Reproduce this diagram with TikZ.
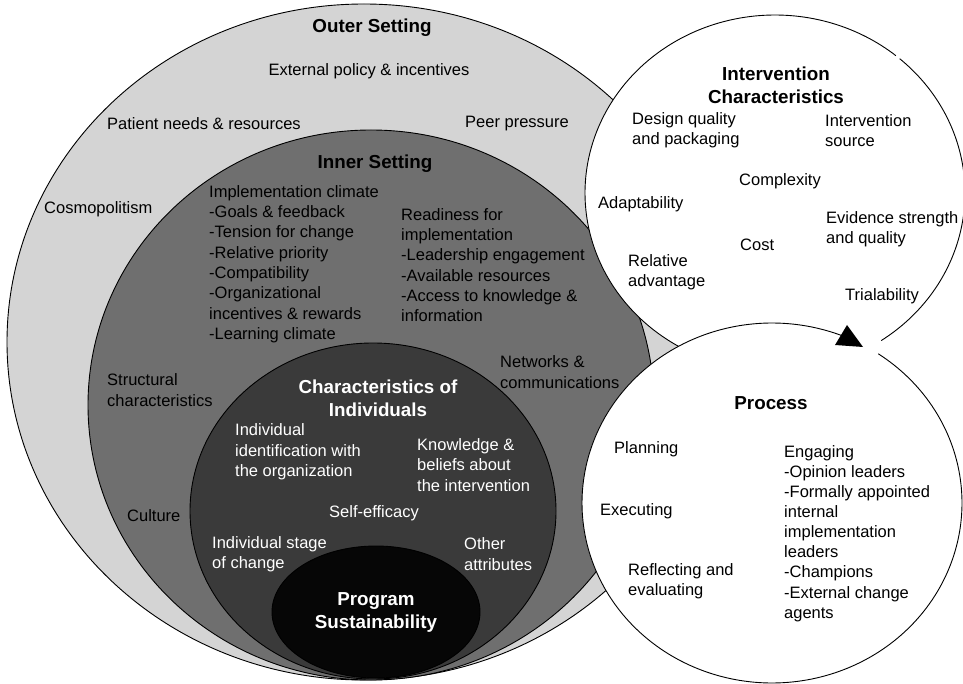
\documentclass[tikz,border=0pt]{standalone}
\usepackage{fontspec}
\setmainfont{Liberation Sans}
\begin{document}
\begin{tikzpicture}[x=1pt,y=-1pt,
  outline/.style={draw=black,line width=0.9pt},
  txt/.style={font=\fontsize{16.5}{20.3}\selectfont,inner sep=0pt,align=left,anchor=west},
  ctxt/.style={font=\fontsize{16.5}{20.3}\selectfont,inner sep=0pt,align=center},
  ttl/.style={font=\fontsize{18.8}{23}\selectfont\bfseries,inner sep=0pt,align=center},
  wtxt/.style={txt,text=white},
  wctxt/.style={ctxt,text=white},
  wttl/.style={ttl,text=white}]
\definecolor{outerC}{RGB}{212,212,212}
\definecolor{innerC}{RGB}{111,111,111}
\definecolor{indivC}{RGB}{58,58,58}
\definecolor{progC}{RGB}{6,6,6}
\useasboundingbox (0,0) rectangle (963,684);
\clip (0,0) rectangle (963,684);
\fill[white] (0,0) rectangle (963,684);

% nested settings
\filldraw[fill=outerC,outline] (364,342) ellipse [x radius=357pt,y radius=338pt];
\filldraw[fill=innerC,outline] (371,405) ellipse [x radius=283pt,y radius=275pt];
\filldraw[fill=indivC,outline] (373,511) ellipse [x radius=183pt,y radius=168pt];
\filldraw[fill=progC,outline] (376,612) ellipse [x radius=104pt,y radius=66pt];

% intervention characteristics circle
\fill[white] (775,193) ellipse [x radius=190pt,y radius=178pt];
\draw[outline] plot[domain=-49:56,samples=90] ({775+190*cos(\x)},{193+178*sin(\x)});
\draw[outline] plot[domain=-50.5:-250,samples=150] ({775+190*cos(\x)},{193+178*sin(\x)});

% process circle
\fill[white] (772,503) ellipse [x radius=190pt,y radius=180pt];
\draw[outline] plot[domain=-56:292,samples=240] ({772+190*cos(\x)},{503+180*sin(\x)});
\fill[black] (847,325) -- (863,347) -- (835,345) -- cycle;

% outer setting
\node[ttl] (outerT) at (372,28) {Outer Setting};
\node[ctxt] (policy) at (369,71) {External policy \& incentives};
\node[txt] (patient) at (107,124) {Patient needs \& resources};
\node[txt] (peer) at (465,124) {Peer pressure};
\node[txt] (cosmo) at (44,209) {Cosmopolitism};

% inner setting
\node[ttl] (innerT) at (375,164) {Inner Setting};
\node[txt] (climate) at (209,264) {Implementation climate\\-Goals \& feedback\\-Tension for change\\-Relative priority\\-Compatibility\\-Organizational\\incentives \& rewards\\-Learning climate};
\node[txt] (ready) at (401,265) {Readiness for\\implementation\\-Leadership engagement\\-Available resources\\-Access to knowledge \&\\information};
\node[txt] (networks) at (500,372) {Networks \&\\communications};
\node[txt] (struct) at (107,390) {Structural\\characteristics};
\node[txt] (culture) at (127,516) {Culture};

% characteristics of individuals
\node[wttl] (indivT) at (378,398) {Characteristics of\\Individuals};
\node[wtxt] (ident) at (235,452) {Individual\\identification with\\the organization};
\node[wtxt] (know) at (417,465) {Knowledge \&\\beliefs about\\the intervention};
\node[wctxt] (selfeff) at (374,513) {Self-efficacy};
\node[wtxt] (stage) at (212,554) {Individual stage\\of change};
\node[wtxt] (other) at (464,554) {Other\\attributes};

% program sustainability
\node[wttl] (prog) at (376,612) {Program\\Sustainability};

% intervention characteristics
\node[ttl] (intT) at (776,85) {Intervention\\Characteristics};
\node[txt] (design) at (632,130.5) {Design quality\\and packaging};
\node[txt] (source) at (825,130.5) {Intervention\\source};
\node[ctxt] (complex) at (780,181) {Complexity};
\node[txt] (adapt) at (598,204) {Adaptability};
\node[txt] (evid) at (826,229.5) {Evidence strength\\and quality};
\node[txt] (cost) at (740,245) {Cost};
\node[txt] (reladv) at (628,272.5) {Relative\\advantage};
\node[txt] (trial) at (845,296) {Trialability};

% process
\node[ttl] (procT) at (771,403) {Process};
\node[txt] (plan) at (614,449) {Planning};
\node[txt] (exec) at (600,511) {Executing};
\node[txt] (reflect) at (628,581.5) {Reflecting and\\evaluating};
\node[txt,font=\fontsize{16.5}{20.1}\selectfont] (engage) at (784,533.5) {Engaging\\-Opinion leaders\\-Formally appointed\\internal\\implementation\\leaders\\-Champions\\-External change\\agents};
\end{tikzpicture}
\end{document}
